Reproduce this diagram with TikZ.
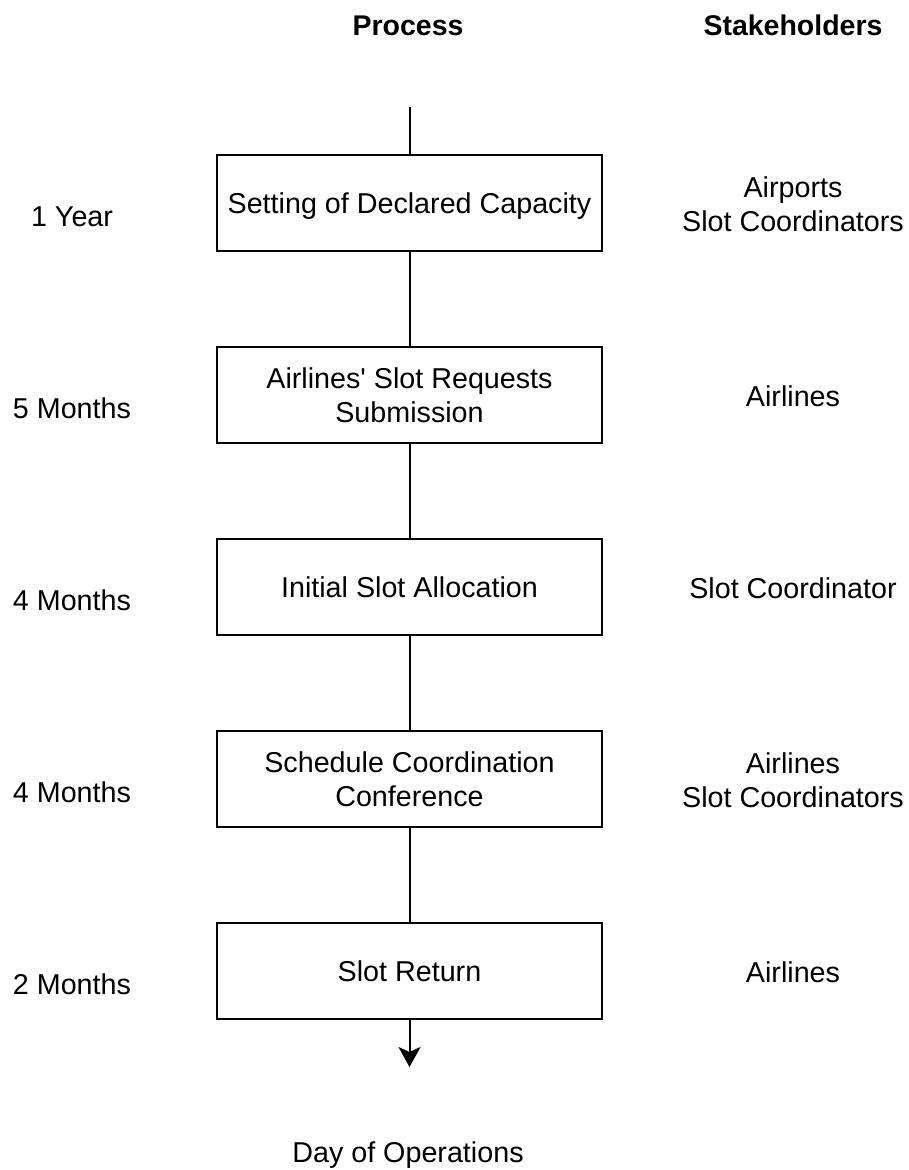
\documentclass[tikz,border=0pt]{standalone}
\usepackage{fontspec}
\setmainfont{Liberation Sans}[Ligatures=ResetAll]
\usetikzlibrary{arrows.meta}
% single-line label whose capitals sit centred on the node
\newcommand\oneline[1]{\raisebox{-10.5pt}[0pt][0pt]{#1}}
% straight typewriter apostrophe, taken by glyph so no mapping can curl it
\newcommand\straightquote{\XeTeXglyph\XeTeXglyphindex "quotesingle"\relax}
\begin{document}
\begin{tikzpicture}[x=1pt,y=-1pt,
  every node/.style={font=\fontsize{28.7}{33.6}\selectfont, align=center, inner sep=0pt},
  stepbox/.style={draw, line width=2pt, minimum width=385pt, minimum height=96pt},
  heading/.style={font=\fontsize{28.5}{33.6}\selectfont\bfseries},
  link/.style={line width=2pt},
]
\useasboundingbox (0,0) rectangle (908,1170);

% column headings
\node[heading] (hproc) at (408,25) {\oneline{Process}};
\node[heading] (hstake) at (793,25) {\oneline{Stakeholders}};

% process steps
\node[stepbox] (b1) at (409.5,203) {\oneline{Setting of Declared Capacity}};
\node[stepbox] (b2) at (409.5,395) {Airlines\straightquote{} Slot Requests\\Submission};
\node[stepbox] (b3) at (409.5,587) {\oneline{Initial Slot Allocation}};
\node[stepbox] (b4) at (409.5,779) {Schedule Coordination\\Conference};
\node[stepbox] (b5) at (409.5,971) {\oneline{Slot Return}};

% timeline labels
\node (t1) at (72,216) {\oneline{1 Year}};
\node (t2) at (72,408) {\oneline{5 Months}};
\node (t3) at (72,600) {\oneline{4 Months}};
\node (t4) at (72,792) {\oneline{4 Months}};
\node (t5) at (72,984) {\oneline{2 Months}};

% stakeholders
\node (s1) at (793,204) {Airports\\Slot Coordinators};
\node (s2) at (793,396) {\oneline{Airlines}};
\node (s3) at (793,588) {\oneline{Slot Coordinator}};
\node (s4) at (793,780) {Airlines\\Slot Coordinators};
\node (s5) at (793,972) {\oneline{Airlines}};

% end of the timeline
\node (day) at (408,1152) {\oneline{Day of Operations}};

% connectors
\coordinate (start) at (409.5,107);
\coordinate (finish) at (409.5,1067);
\draw[link] (start) -- (b1.north);
\draw[link] (b1.south) -- (b2.north);
\draw[link] (b2.south) -- (b3.north);
\draw[link] (b3.south) -- (b4.north);
\draw[link] (b4.south) -- (b5.north);
\draw[link, -{Stealth[length=20pt,width=22pt,inset=5pt]}] (b5.south) -- (finish);
\end{tikzpicture}
\end{document}
